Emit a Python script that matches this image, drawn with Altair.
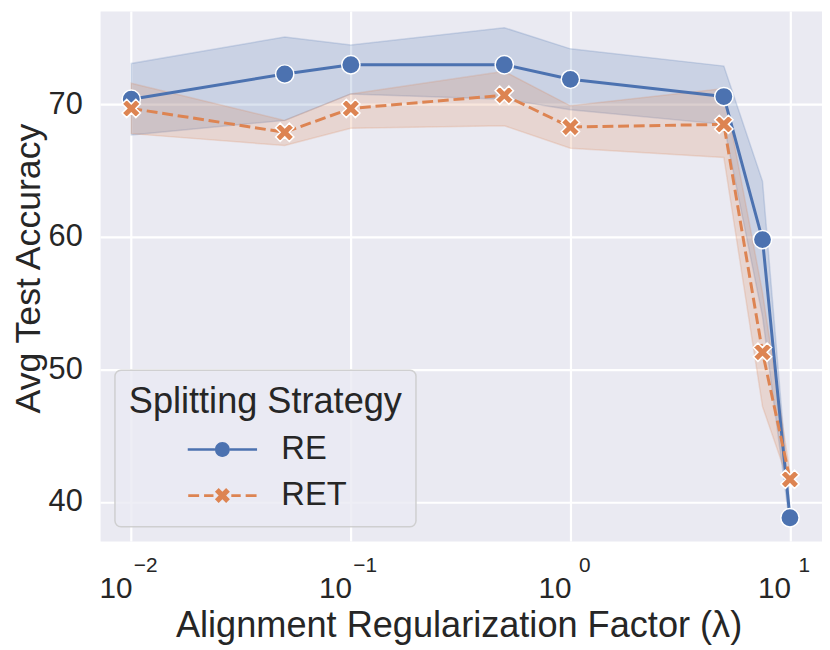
import math
import json
import altair as alt
import pandas as pd

# ---------------- data ----------------
lam = [0.01, 0.05, 0.1, 0.5, 1, 5, 7.5, 10]
series = ["RE", "RET"]
colors = ["#4C72B0", "#DD8452"]

re_mean = [70.4, 72.3, 73.0, 73.0, 71.9, 70.6, 59.8, 38.8]
re_lo = [67.7, 68.8, 70.8, 70.4, 69.6, 68.5, 54.0, 38.2]
re_hi = [73.1, 75.1, 74.5, 75.8, 74.2, 72.9, 64.2, 39.4]

ret_mean = [69.7, 67.9, 69.7, 70.7, 68.3, 68.5, 51.3, 41.7]
ret_lo = [67.8, 66.9, 68.2, 68.4, 66.7, 66.0, 47.2, 41.2]
ret_hi = [71.6, 68.8, 70.8, 72.5, 69.9, 71.2, 55.8, 42.2]

x_tick_values = [0.01, 0.1, 1, 10]
x_tick_base = "10"
x_tick_exponents = ["−2", "−1", "0", "1"]
y_tick_values = [40, 50, 60, 70]

x_title = "Alignment Regularization Factor (λ)"
y_title = "Avg Test Accuracy"
legend_title = "Splitting Strategy"

rows = []
for s, m, lo, hi in [("RE", re_mean, re_lo, re_hi), ("RET", ret_mean, ret_lo, ret_hi)]:
    for xv, a, b, c in zip(lam, m, lo, hi):
        rows.append({"lam": xv, "acc": a, "lo": b, "hi": c, "strategy": s})
df = pd.DataFrame(rows)

# ---------------- marker shapes ----------------
def x_polygon(a, t, cx=0.0):
    pts = [(t, -a), (t, -t), (a, -t), (a, t), (t, t), (t, a), (-t, a), (-t, t),
           (-a, t), (-a, -t), (-t, -t), (-t, -a)]
    r = 1 / math.sqrt(2)
    out = []
    for px, py in pts:
        out.append(((px - py) * r + cx, (px + py) * r))
    return "M" + "L".join(f"{px:.3f},{py:.3f}" for px, py in out) + "Z"

def rect(x0, x1, h):
    return f"M{x0},{-h}H{x1}V{h}H{x0}Z"

X_PATH = x_polygon(1.0, 1 / 3)

lh = 0.135
leg_re = (rect(-3.5, -0.75, lh) + rect(0.75, 3.5, lh)
          + "M-0.75,0A0.75,0.75 0 1,1 0.75,0A0.75,0.75 0 1,1 -0.75,0Z")
leg_ret = (rect(-3.45, -2.35, lh) + rect(-1.85, -0.9, lh) + rect(0.9, 1.85, lh)
           + rect(2.35, 3.45, lh) + x_polygon(0.8, 0.267))

FONT = "Liberation Sans"
TXT = "#262626"

# ---------------- encodings ----------------
x_scale = alt.Scale(type="log", domain=[10 ** -2.142, 10 ** 1.146], nice=False, zero=False)
y_scale = alt.Scale(domain=[37.05, 77.05], nice=False, zero=False)

exp_expr = (json.dumps(x_tick_exponents, ensure_ascii=False)
            + "[round(log(datum.value) / LN10) + 2]")

x_axis_main = alt.Axis(
    orient="bottom", values=x_tick_values, labelExpr=json.dumps(x_tick_base), grid=True,
    gridColor="white", gridWidth=2.2, domain=False, ticks=False, tickSize=0,
    labelFontSize=30, labelPadding=57, labelBaseline="alphabetic", labelOffset=-16,
    labelColor=TXT, labelFont=FONT, labelFlush=False, labelOverlap=False,
    titleFontSize=36.5, titleFontWeight="normal", titleColor=TXT, titleFont=FONT,
    titleX=362, titleY=97, titleBaseline="alphabetic", titleAlign="center")
x_axis_exp = alt.Axis(
    orient="bottom", values=x_tick_values, labelExpr=exp_expr, grid=False, domain=False,
    ticks=False, tickSize=0, labelFontSize=21, labelPadding=31, labelBaseline="alphabetic",
    labelOffset=14, labelColor=TXT, labelFont=FONT, labelFlush=False, labelOverlap=False,
    title=None)
y_axis = alt.Axis(values=y_tick_values, grid=True, gridColor="white", gridWidth=2.2,
                  domain=False, ticks=False, tickSize=0, labelFontSize=31, labelPadding=18,
                  labelColor=TXT, labelFont=FONT, labelBaseline="middle",
                  titleFontSize=36, titleFontWeight="normal", titleColor=TXT, titleFont=FONT,
                  titleAngle=270, titleX=-61, titleY=259.5, titleAlign="center",
                  titleBaseline="alphabetic")

def X(axis=None):
    if axis is None:
        return alt.X("lam:Q", scale=x_scale, axis=None)
    return alt.X("lam:Q", scale=x_scale, axis=axis, title=x_title)

def Y(field):
    return alt.Y(f"{field}:Q", scale=y_scale, axis=y_axis, title=y_title)

color_scale = alt.Scale(domain=series, range=colors)
color_plain = alt.Color("strategy:N", scale=color_scale, legend=None)

def make_legend():
    return alt.Legend(
        title=legend_title, orient="none", legendX=15, legendY=362.7, direction="vertical",
        padding=14, fillColor="rgba(234,234,242,0.8)", strokeColor="rgba(204,204,204,0.9)",
        cornerRadius=6, titleFontSize=36.5, titleFontWeight="normal", titleColor=TXT,
        titleFont=FONT, titlePadding=13, titleLimit=500, labelFontSize=33, labelColor=TXT,
        labelFont=FONT, labelOffset=43, labelLimit=300, rowPadding=12.5, symbolOffset=78,
        symbolSize=400, symbolStrokeWidth=0, symbolOpacity=1,
    )

base = alt.Chart(df)

band = base.mark_area(fillOpacity=0.2, strokeOpacity=0.2, strokeWidth=1.5).encode(
    x=X(x_axis_main), y=Y("lo"), y2="hi:Q", color=color_plain,
    stroke=alt.Stroke("strategy:N", scale=alt.Scale(domain=series, range=colors), legend=None),
)

re_line = base.transform_filter(alt.datum.strategy == "RE").mark_line(
    strokeWidth=3, strokeJoin="round").encode(x=X(x_axis_exp), y=Y("acc"), color=color_plain)
re_pts = base.transform_filter(alt.datum.strategy == "RE").mark_point(
    shape="circle", filled=True, size=342, stroke="white", strokeWidth=1.5, opacity=1
).encode(x=X(), y=Y("acc"), color=color_plain)
ret_line = base.transform_filter(alt.datum.strategy == "RET").mark_line(
    strokeWidth=3, strokeDash=[11, 4.8]).encode(x=X(), y=Y("acc"), color=color_plain)
ret_pts = base.transform_filter(alt.datum.strategy == "RET").mark_point(
    shape=X_PATH, filled=True, size=385, stroke="white", strokeWidth=1.5, opacity=1
).encode(x=X(), y=Y("acc"), color=color_plain)

# legend-only layer: invisible points whose shape scale holds the legend glyphs
legend_layer = base.mark_point(filled=True, opacity=0, size=400, strokeWidth=0).encode(
    x=X(), y=Y("acc"),
    color=alt.Color("strategy:N", scale=color_scale, legend=make_legend()),
    shape=alt.Shape("strategy:N", scale=alt.Scale(domain=series, range=[leg_re, leg_ret]),
                    legend=make_legend()),
)

chart = alt.layer(band, re_line, re_pts, ret_line, ret_pts, legend_layer).resolve_scale(
    color="independent", shape="independent"
).resolve_axis(x="independent").properties(
    width=729, height=535,
    autosize=alt.AutoSizeParams(type="none"),
    padding={"left": 93, "top": 0, "right": 0, "bottom": 105},
).configure(background="white", font=FONT).configure_view(
    fill="#EAEAF2", stroke="transparent"
).configure_legend(strokeWidth=1.5)

chart.save("out.html", embed_options={"renderer": "svg", "actions": False})
